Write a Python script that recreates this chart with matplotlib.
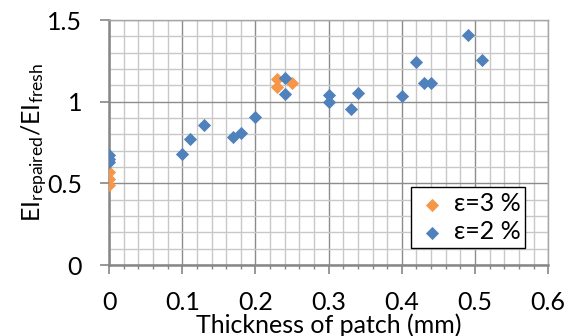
import matplotlib
matplotlib.use('Agg')
import matplotlib.pyplot as plt
from matplotlib.ticker import MultipleLocator

plt.rcParams['font.family'] = ['Lato', 'DejaVu Sans']
plt.rcParams['mathtext.fontset'] = 'custom'
plt.rcParams['mathtext.rm'] = 'Lato'
plt.rcParams['mathtext.it'] = 'Lato'

# eps = 3 %
x3 = [0, 0, 0, 0.23, 0.23, 0.25]
y3 = [0.57, 0.53, 0.49, 1.14, 1.09, 1.115]

# eps = 2 %
x2 = [0, 0, 0, 0.10, 0.11, 0.13, 0.17, 0.18, 0.20, 0.24, 0.24,
      0.30, 0.30, 0.33, 0.34, 0.40, 0.42, 0.43, 0.44, 0.49, 0.51]
y2 = [0.675, 0.65, 0.63, 0.68, 0.77, 0.855, 0.787, 0.812, 0.904, 1.143, 1.045,
      1.04, 0.998, 0.955, 1.057, 1.033, 1.241, 1.117, 1.118, 1.411, 1.256]

xticks = [0, 0.1, 0.2, 0.3, 0.4, 0.5, 0.6]
xticklabels = ['0', '0.1', '0.2', '0.3', '0.4', '0.5', '0.6']
yticks = [0, 0.5, 1, 1.5]
yticklabels = ['0', '0.5', '1', '1.5']

fig = plt.figure(figsize=(5.77, 3.36), dpi=100)
ax = fig.add_axes([0.189, 0.211, 0.761, 0.729])

ax.scatter(x3, y3, marker='D', s=45, color='#F79646', label='ε=3 %', zorder=3, linewidths=0)
ax.scatter(x2, y2, marker='D', s=45, color='#4F81BD', label='ε=2 %', zorder=3, linewidths=0)

ax.set_xlim(0, 0.6)
ax.set_ylim(0, 1.5)
ax.xaxis.set_minor_locator(MultipleLocator(0.02))
ax.yaxis.set_minor_locator(MultipleLocator(0.1))
ax.set_xticks(xticks)
ax.set_xticklabels(xticklabels)
ax.set_yticks(yticks)
ax.set_yticklabels(yticklabels)

ax.grid(which='major', color='#8C8C8C', linewidth=1.0, zorder=0)
ax.grid(which='minor', color='#C8C8C8', linewidth=1.0, zorder=0)
ax.set_axisbelow(True)

for s in ['top', 'right']:
    ax.spines[s].set_color('#A6A6A6')
    ax.spines[s].set_linewidth(1.0)
for s in ['bottom', 'left']:
    ax.spines[s].set_color('#868686')
    ax.spines[s].set_linewidth(1.8)

ax.tick_params(which='major', direction='out', length=6.5, width=1.2, color='#868686',
               labelsize=18)
ax.tick_params(axis='x', which='major', pad=12)
ax.tick_params(axis='y', which='major', pad=13)
ax.tick_params(axis='x', which='minor', direction='out', length=3, width=1, color='#868686')
ax.tick_params(axis='y', which='minor', length=0)

ax.set_xlabel('Thickness of patch (mm)', fontsize=18, labelpad=0)
ax.set_ylabel(r'$\mathrm{EI_{repaired}/EI_{fresh}}$', fontsize=18, labelpad=-2)

leg = ax.legend(loc='lower right', bbox_to_anchor=(0.948, 0.069), fontsize=18,
                frameon=True, fancybox=False, edgecolor='black', framealpha=1,
                handletextpad=0.2, borderpad=0.2, labelspacing=0.2, handlelength=1.3,
                borderaxespad=0)
leg.get_frame().set_linewidth(1.0)

fig.savefig('out.png', dpi=100)
